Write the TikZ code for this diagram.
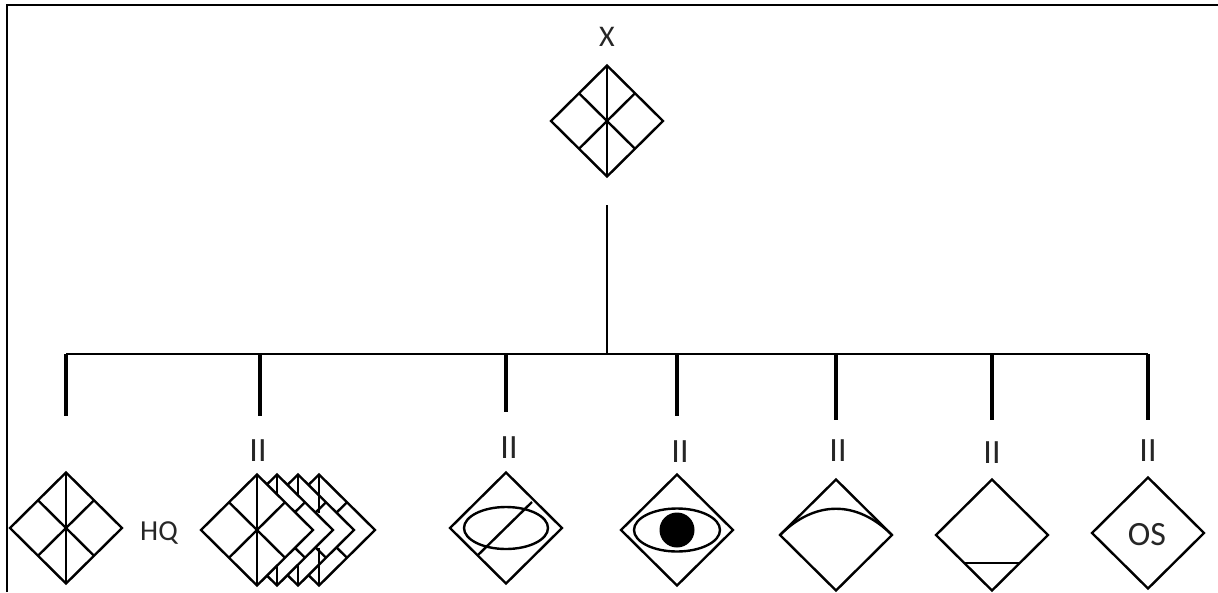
\documentclass[tikz,border=0pt]{standalone}
\usepackage{fontspec}
\setmainfont{Carlito}
\usetikzlibrary{shapes.geometric,calc}
\tikzset{
  dia/.style={diamond,draw=black,fill=white,line width=2.4pt,inner sep=0pt,outer sep=0pt,aspect=1,minimum width=112pt,minimum height=111pt,line join=miter},
  inner/.style={line width=2.4pt,black},
  thin/.style={line width=1.4pt,black},
  drop/.style={line width=3.2pt,black},
  frameline/.style={line width=2.6pt,black},
  lab/.style={inner sep=0pt,text=black!85,font=\fontsize{34pt}{36pt}\selectfont},
  pt/.style={inner sep=0pt,minimum size=0pt}
}
\newcommand{\quadlines}[1]{%
  \draw[inner] (#1.north) -- (#1.south);
  \draw[inner] ($(#1.north)!.5!(#1.west)$) -- ($(#1.south)!.5!(#1.east)$);
  \draw[inner] ($(#1.north)!.5!(#1.east)$) -- ($(#1.south)!.5!(#1.west)$);
}
\begin{document}
\begin{tikzpicture}[x=1pt,y=-1pt]
\useasboundingbox (0,0) rectangle (1218,592);
% frame
\coordinate (f1) at (7,592);
\coordinate (f2) at (7,5);
\coordinate (f3) at (1218,5);
\draw[frameline] (f1) -- (f2) -- (f3);
% top
\node[lab,font=\fontsize{30pt}{32pt}\selectfont] (xl) at (607,37) {X};
\node[dia] (top) at (607,121) {};
\quadlines{top}
% tree
\coordinate (t1) at (607,205);
\coordinate (t2) at (607,354);
\draw[thin] (t1) -- (t2);
\coordinate (h1) at (66,354);
\coordinate (h2) at (1148,354);
\draw[thin] (h1) -- (h2);
\foreach \n/\x/\e in {a/66/416,b/260/416,c/506/412,d/677/416,e/836/420,f/992/420,g/1148/420}{
  \coordinate (\n1) at (\x,354);
  \coordinate (\n2) at (\x,\e);
  \draw[drop] (\n1) -- (\n2);
}
% labels
\node[lab] (lb) at (258,451) {II};
\node[lab] (lc) at (509,448) {II};
\node[lab] (ld) at (680,452) {II};
\node[lab] (le) at (838,451) {II};
\node[lab] (lf) at (992,453) {II};
\node[lab] (lg) at (1148,451) {II};
% HQ
\node[dia] (hq) at (66,528) {};
\quadlines{hq}
\node[lab,font=\fontsize{29pt}{31pt}\selectfont] (hql) at (159,533) {HQ};
% stack
\node[dia] (s4) at (319,530) {};
\quadlines{s4}
\node[dia] (s3) at (298,530) {};
\quadlines{s3}
\draw[inner] (s4.north) -- ($(s4.north)+(0,38)$);
\draw[inner] (s4.south) -- ($(s4.south)+(0,-38)$);
\node[dia] (s2) at (277,530) {};
\quadlines{s2}
\node[dia] (s1) at (257,530) {};
\quadlines{s1}
% ellipse slash
\node[dia] (c) at (506,528) {};
\draw[inner] (c.center) ellipse [x radius=42,y radius=21];
\coordinate (c1) at (532,502);
\coordinate (c2) at (478,555);
\draw[inner] (c1) -- (c2);
% eye
\node[dia] (d) at (677,530) {};
\draw[inner] (d.center) ellipse [x radius=43,y radius=21.5];
\fill[black] (d.center) circle [radius=17.5];
% arc
\node[dia] (e) at (836,535) {};
\draw[inner] (e.west) .. controls (815,500) and (857,500) .. (e.east);
% triangle
\node[dia] (f) at (992,535) {};
\coordinate (f5) at (965,563);
\coordinate (f6) at (1020,563);
\draw[inner] (f5) -- (f6);
% OS
\node[dia] (g) at (1148,533) {};
\node[lab] (os) at (1147,535) {OS};
\end{tikzpicture}
\end{document}
